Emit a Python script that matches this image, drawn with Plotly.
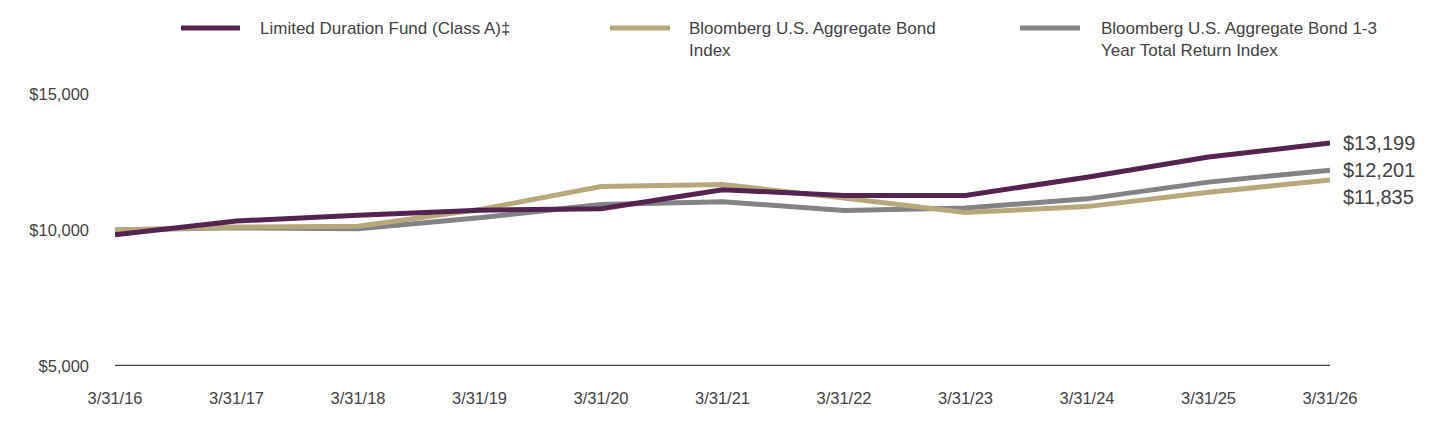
import plotly.graph_objects as go

# ---- data ----
dates = ["3/31/16", "3/31/17", "3/31/18", "3/31/19", "3/31/20", "3/31/21",
         "3/31/22", "3/31/23", "3/31/24", "3/31/25", "3/31/26"]
fund = [9825, 10330, 10540, 10730, 10780, 11480, 11270, 11270, 11940, 12680, 13199]
agg = [10000, 10110, 10140, 10750, 11600, 11670, 11180, 10640, 10860, 11390, 11835]
short = [10000, 10080, 10045, 10450, 10940, 11040, 10720, 10810, 11145, 11760, 12201]
series_names = [["Limited Duration Fund (Class A)‡"],
                ["Bloomberg U.S. Aggregate Bond", "Index"],
                ["Bloomberg U.S. Aggregate Bond 1-3", "Year Total Return Index"]]
y_ticks = [5000, 10000, 15000]

# ---- style ----
colors = ["#55234F", "#B7A87B", "#838387"]
NARROW = "Liberation Sans Narrow, Arial Narrow, Liberation Sans, Arial, sans-serif"
REG = "Liberation Sans, Arial, sans-serif"
TXT = "#424242"
FS = 16.5

W, H = 1440, 432
L, R, T, B = 115, 110, 94, 66
pw, ph = W - L - R, H - T - B


def px_x(p):
    return (p - L) / pw


def px_y(p):
    return (H - B - p) / ph


fig = go.Figure()
# draw order: 1-3 yr index, aggregate, fund (fund on top)
order = [2, 1, 0]
data = [fund, agg, short]
for i in order:
    fig.add_trace(go.Scatter(
        x=dates, y=data[i], mode="lines", name=" ".join(series_names[i]),
        line=dict(color=colors[i], width=5), showlegend=False,
        hoverinfo="skip"))

# end labels
for i, s in zip([0, 2, 1], [0, 0, -17]):
    v = data[i][-1]
    fig.add_annotation(x=dates[-1], y=v, xref="x", yref="y",
                       text=f"${v:,}", showarrow=False, xanchor="left",
                       yanchor="middle", xshift=11, yshift=s,
                       font=dict(family=REG, size=20, color=TXT))

# manual legend
leg_line = [(181, 240), (610, 670), (1020, 1080)]
leg_text = [258, 687, 1099]
for i in range(3):
    x0, x1 = leg_line[i]
    fig.add_shape(type="line", xref="paper", yref="paper",
                  x0=px_x(x0), x1=px_x(x1), y0=px_y(28), y1=px_y(28),
                  line=dict(color=colors[i], width=5))
    for k, line_txt in enumerate(series_names[i]):
        fig.add_annotation(x=px_x(leg_text[i]), y=px_y(28 + 23 * k),
                           xref="paper", yref="paper",
                           text=line_txt, showarrow=False, xanchor="left",
                           yanchor="middle", align="left",
                           font=dict(family=NARROW, size=FS + 0.5, color=TXT))

fig.update_layout(
    width=W, height=H,
    margin=dict(l=L, r=R, t=T, b=B, pad=0),
    paper_bgcolor="white", plot_bgcolor="white",
    xaxis=dict(type="category", range=[0, len(dates) - 1], showgrid=False,
               zeroline=False, showline=False, ticks="", ticklabelstandoff=20,
               tickfont=dict(family=NARROW, size=FS, color=TXT)),
    yaxis=dict(range=[5000, 15000], tickvals=y_ticks,
               ticktext=[f"${v:,}" for v in y_ticks], showgrid=False,
               zeroline=False, showline=False, ticks="", ticklabelstandoff=25,
               tickfont=dict(family=NARROW, size=FS, color=TXT)),
    showlegend=False,
)
# baseline axis line at $5,000
fig.add_shape(type="line", xref="paper", yref="y", x0=0, x1=1, y0=5000, y1=5000,
              line=dict(color="#404040", width=2.5), layer="below")

fig.write_html("out.html")
